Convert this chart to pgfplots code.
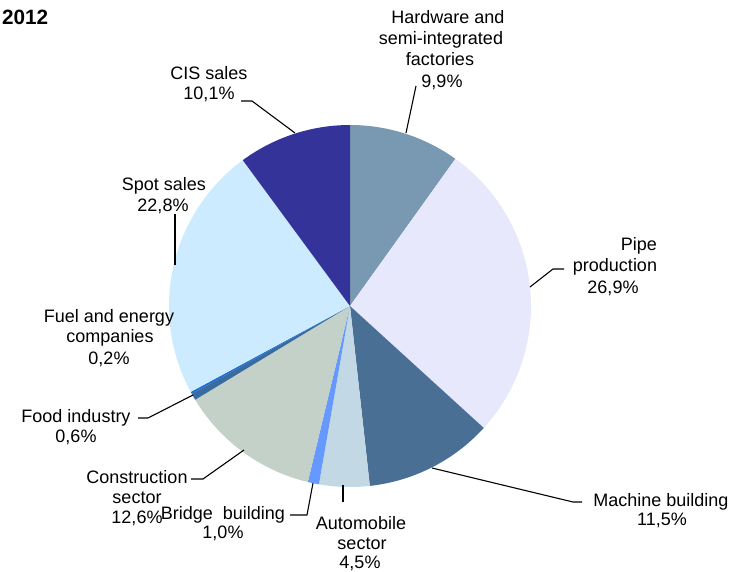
\documentclass[border=0pt]{standalone}
\usepackage{pgfplots}
\pgfplotsset{compat=1.18}
\usepackage{fontspec}
\setmainfont{Liberation Sans}
\definecolor{cHard}{HTML}{7899B1}
\definecolor{cPipe}{HTML}{E8E8FC}
\definecolor{cMach}{HTML}{4A6F94}
\definecolor{cAuto}{HTML}{C2D9E5}
\definecolor{cBrid}{HTML}{6699FF}
\definecolor{cCons}{HTML}{C3D1C8}
\definecolor{cFood}{HTML}{3A6B9E}
\definecolor{cFuel}{HTML}{1F6FD6}
\definecolor{cSpot}{HTML}{CCEBFF}
\definecolor{cCIS}{HTML}{333399}
% slice: #1 cumulative share before, #2 share, #3 colour
\newcommand{\slice}[3]{%
  \fill[#3] (axis cs:350,306) -- ++({90-3.5964*#1}:181bp)
    arc[start angle={90-3.5964*#1}, delta angle={-3.5964*#2}, radius=181bp] -- cycle;}
\newcommand{\lab}[3]{\node[anchor=base, inner sep=0pt, font=\fontsize{18bp}{21.5bp}\selectfont] at (axis cs:#1,{#2+6}) {#3};}
\begin{document}
\begin{tikzpicture}
\begin{axis}[
  x=1bp, y=1bp, xmin=0, xmax=748, ymin=0, ymax=572,
  y dir=reverse, hide axis, clip=false, scale only axis,
  at={(0,0)}, anchor=south west]
% shares (%): 9.9, 26.9, 11.5, 4.5, 1.0, 12.6, 0.6, 0.2, 22.8, 10.1
\slice{0}{9.9}{cHard}
\slice{9.9}{26.9}{cPipe}
\slice{36.8}{11.5}{cMach}
\slice{48.3}{4.5}{cAuto}
\slice{52.8}{1.0}{cBrid}
\slice{53.8}{12.6}{cCons}
\slice{66.4}{0.6}{cFood}
\slice{67.0}{0.2}{cFuel}
\slice{67.2}{22.8}{cSpot}
\slice{90.0}{10.1}{cCIS}
% leader lines
\draw[line width=1.1bp] (axis cs:406,133) -- (axis cs:416,86);
\draw[line width=1.1bp] (axis cs:530,287) -- (axis cs:553,269) -- (axis cs:564,269);
\draw[line width=1.1bp] (axis cs:432,468) -- (axis cs:573,502) -- (axis cs:582,502);
\draw[line width=1.1bp] (axis cs:343,485) -- (axis cs:343,502);
\draw[line width=1.1bp] (axis cs:313,483) -- (axis cs:307,515) -- (axis cs:290,515);
\draw[line width=1.1bp] (axis cs:244,450) -- (axis cs:203,479) -- (axis cs:191,479);
\draw[line width=1.1bp] (axis cs:193,395) -- (axis cs:148,418) -- (axis cs:138,418);
\draw[line width=1.1bp] (axis cs:175,265) -- (axis cs:175,214);
\draw[line width=1.1bp] (axis cs:295,133) -- (axis cs:252,101) -- (axis cs:241,101);
% labels
\node[anchor=base west, inner sep=0pt, font=\fontsize{20.7bp}{24bp}\selectfont\bfseries] at (axis cs:2,24) {2012};
\lab{448}{17}{Hardware and}
\lab{441}{38}{semi-integrated}
\lab{440}{59}{factories}
\lab{442}{81}{9,9\%}
\lab{639}{244}{Pipe}
\lab{615}{265}{production}
\lab{613}{287}{26,9\%}
\lab{661}{500}{Machine building}
\lab{662}{519}{11,5\%}
\lab{361}{523}{Automobile}
\lab{362}{543}{sector}
\lab{360}{562}{4,5\%}
\lab{223}{513}{Bridge\ \ building}
\lab{223}{532}{1,0\%}
\lab{137}{477}{Construction}
\lab{137}{497}{sector}
\lab{137}{517}{12,6\%}
\lab{76}{416}{Food industry}
\lab{76}{436}{0,6\%}
\lab{109}{316}{Fuel and energy}
\lab{110}{336}{companies}
\lab{109}{358}{0,2\%}
\lab{164}{184}{Spot sales}
\lab{163}{205}{22,8\%}
\lab{209}{73}{CIS sales}
\lab{209}{93}{10,1\%}
\end{axis}
\pgfresetboundingbox
\useasboundingbox (0,0) rectangle (748bp,572bp);
\end{tikzpicture}
\end{document}
